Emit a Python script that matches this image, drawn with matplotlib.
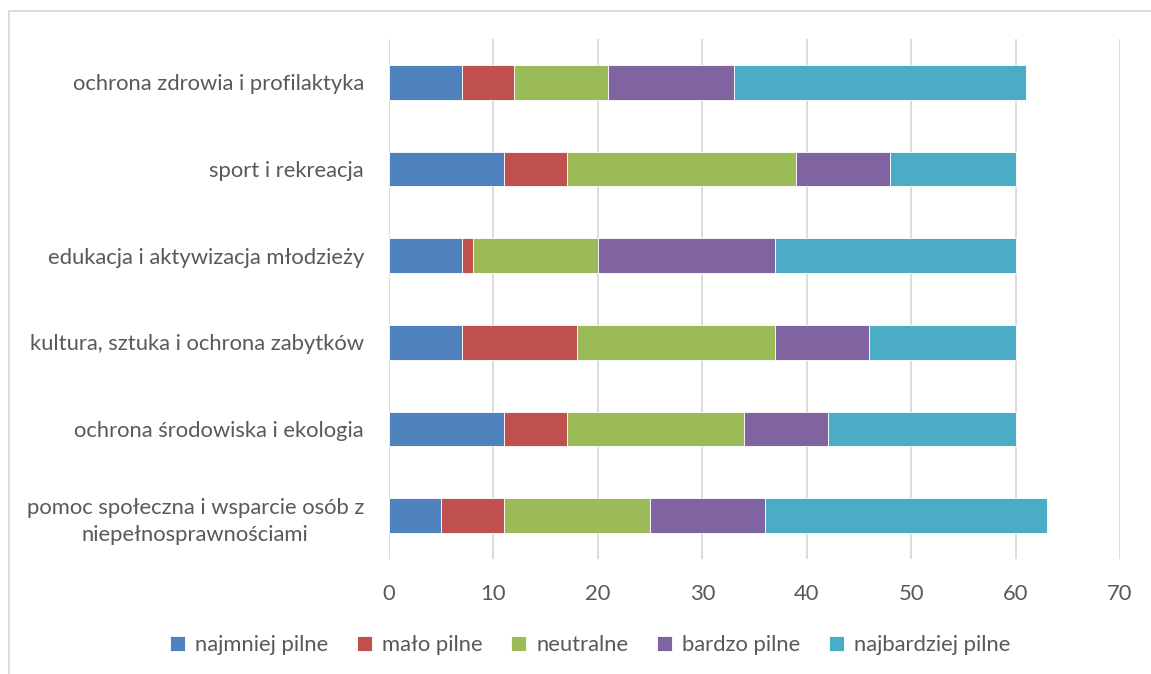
import matplotlib.pyplot as plt
from matplotlib.patches import Rectangle

# ── Data ──────────────────────────────────────────────────
categories = [
    "pomoc społeczna i wsparcie osób z\nniepełnosprawnościami",
    "ochrona środowiska i ekologia",
    "kultura, sztuka i ochrona zabytków",
    "edukacja i aktywizacja młodzieży",
    "sport i rekreacja",
    "ochrona zdrowia i profilaktyka",
]
series_names = ["najmniej pilne", "mało pilne", "neutralne", "bardzo pilne", "najbardziej pilne"]
najmniej    = [5, 11, 7, 7, 11, 7]
malo        = [6, 6, 11, 1, 6, 5]
neutralne   = [14, 17, 19, 12, 22, 9]
bardzo      = [11, 8, 9, 17, 9, 12]
najbardziej = [27, 18, 14, 23, 12, 28]
colors = ["#4F81BD", "#C0504D", "#9BBB59", "#8064A2", "#4BACC6"]

plt.rcParams["font.family"] = ["Lato", "DejaVu Sans"]
TXT = "#595959"
FS = 15.8

fig = plt.figure(figsize=(11.51, 6.74), dpi=100)
W, H = 1151, 674
ax = fig.add_axes([389 / W, 1 - 559 / H, (1120 - 389) / W, 520 / H])

# ── Stacked bars ──────────────────────────────────────────
left = [0] * len(categories)
for name, vals, c in zip(series_names, [najmniej, malo, neutralne, bardzo, najbardziej], colors):
    ax.barh(range(len(categories)), vals, left=left, height=0.4, color=c,
            edgecolor="white", linewidth=0.6, label=name, zorder=3)
    left = [l + v for l, v in zip(left, vals)]

ax.set_xlim(0, 70)
ax.set_ylim(-0.5, len(categories) - 0.5)
ax.set_xticks(range(0, 71, 10))
ax.set_yticks(range(len(categories)))
ax.set_yticklabels(categories, fontsize=FS, color=TXT, linespacing=1.45, multialignment="center")
ax.tick_params(axis="x", labelsize=FS, colors=TXT, length=0, pad=18)
ax.tick_params(axis="y", length=0, pad=18)
ax.grid(axis="x", color="#D9D9D9", lw=1.3, zorder=0)
for s in ax.spines.values():
    s.set_visible(False)

leg = fig.legend(loc="center", bbox_to_anchor=(590 / W, 1 - 645 / H), ncol=5, frameon=False,
                 fontsize=FS, handlelength=0.7, handleheight=0.7, columnspacing=1.3,
                 handletextpad=0.45)
for t in leg.get_texts():
    t.set_color(TXT)

# chart border
fig.patches.append(Rectangle((9 / W, -0.05), 1.2, 1 - 11 / H + 0.05, transform=fig.transFigure,
                             fill=False, edgecolor="#D9D9D9", lw=1.3))

fig.savefig("out.png", dpi=100)
